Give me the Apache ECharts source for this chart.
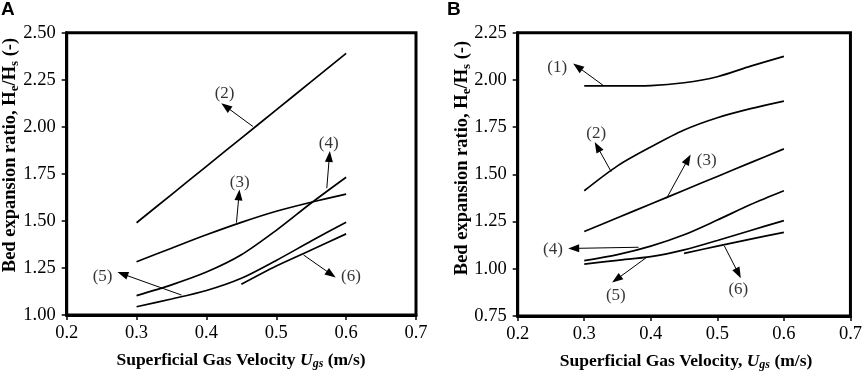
<!DOCTYPE html>
<html>
<head>
<meta charset="utf-8">
<script src="https://cdn.jsdelivr.net/npm/echarts@6/dist/echarts.min.js"></script>
<style>html,body{margin:0;padding:0;background:#fff;}#c{width:865px;height:374px;}</style>
</head>
<body>
<div id="c"></div>
<script>
// ---- data ----
var xs = [0.3, 0.35, 0.4, 0.45, 0.5, 0.55, 0.6];
var xsShort = [0.45, 0.5, 0.55, 0.6];
var xTicks = [0.2, 0.3, 0.4, 0.5, 0.6, 0.7];
var yTicksA = [1.00, 1.25, 1.50, 1.75, 2.00, 2.25, 2.50];
var yTicksB = [0.75, 1.00, 1.25, 1.50, 1.75, 2.00, 2.25];

// Panel A
var a2 = [1.49, 1.64, 1.79, 1.94, 2.09, 2.24, 2.39];
var a3 = [1.283, 1.355, 1.426, 1.492, 1.551, 1.599, 1.642];
var a4 = [1.103, 1.160, 1.228, 1.320, 1.450, 1.595, 1.732];
var a5 = [1.044, 1.085, 1.130, 1.195, 1.290, 1.393, 1.493];
var a6 = [1.163, 1.260, 1.345, 1.431];

// Panel B
var b1 = [1.968, 1.968, 1.970, 1.985, 2.017, 2.073, 2.125];
var b2 = [1.413, 1.545, 1.645, 1.735, 1.800, 1.848, 1.888];
var b3 = [1.197, 1.270, 1.343, 1.416, 1.489, 1.562, 1.635];
var b4 = [1.043, 1.075, 1.120, 1.180, 1.258, 1.340, 1.413];
var b5 = [1.025, 1.045, 1.064, 1.100, 1.150, 1.203, 1.255];
var b6 = [1.082, 1.120, 1.157, 1.193];

// annotation labels [x, y, text] and arrows [x1, y1, x2(head), y2(head)]
var labelsA = [[0.426, 2.176, '(2)'], [0.4476, 1.702, '(3)'], [0.575, 1.913, '(4)'], [0.2514, 1.207, '(5)'], [0.607, 1.204, '(6)']];
var arrowsA = [[0.4666, 2.0016, 0.4276, 2.108], [0.443, 1.491, 0.4466, 1.638], [0.5723, 1.674, 0.576, 1.842], [0.3643, 1.106, 0.28, 1.218], [0.539, 1.319, 0.5786, 1.216]];
var labelsB = [[0.2594, 2.064, '(1)'], [0.318, 1.717, '(2)'], [0.4841, 1.571, '(3)'], [0.2529, 1.103, '(4)'], [0.3475, 0.861, '(5)'], [0.5316, 0.891, '(6)']];
var arrowsB = [[0.3297, 1.968, 0.29, 2.07], [0.3405, 1.514, 0.3197, 1.646], [0.4237, 1.373, 0.4559, 1.580], [0.3816, 1.114, 0.2841, 1.108], [0.394, 1.061, 0.3485, 0.944], [0.5104, 1.122, 0.5316, 0.976]];

// ---- build ----
var SERIF = '"Liberation Serif", "Times New Roman", serif';
var SANS = '"Liberation Sans", Arial, sans-serif';
function pairs(x, y) { return x.map(function (v, i) { return [v, y[i]]; }); }
function curve(idx, x, y) {
  return { type: 'line', xAxisIndex: idx, yAxisIndex: idx, data: pairs(x, y), smooth: 0.3, showSymbol: false, symbol: 'none',
    lineStyle: { color: '#000', width: 1.7 }, silent: true, animation: false, z: 3 };
}
function annot(idx, labels, arrows) {
  return { type: 'scatter', xAxisIndex: idx, yAxisIndex: idx, symbolSize: 0, silent: true, animation: false,
    data: labels.map(function (l) { return { value: [l[0], l[1]], name: l[2] }; }),
    label: { show: true, position: 'inside', formatter: function (p) { return p.name; }, color: '#000', fontFamily: SERIF, fontSize: 17 },
    markLine: { silent: true, animation: false, symbol: ['none', 'triangle'], symbolSize: [8, 11],
      label: { show: false }, lineStyle: { color: '#000', width: 1, type: 'solid' },
      data: arrows.map(function (a) { return [{ coord: [a[0], a[1]] }, { coord: [a[2], a[3]] }]; }) }
  };
}
function xAx(idx) {
  return { type: 'value', gridIndex: idx, min: xTicks[0], max: xTicks[xTicks.length - 1], interval: 0.1,
    axisLine: { show: true, lineStyle: { color: '#000', width: 3 } },
    axisTick: { show: true, length: 5, lineStyle: { color: '#000', width: 1.5 } },
    axisLabel: { color: '#000', fontFamily: SERIF, fontSize: 18.5, margin: 9, formatter: function (v) { return v.toFixed(1); } },
    splitLine: { show: false } };
}
function yAx(idx, ticks) {
  return { type: 'value', gridIndex: idx, min: ticks[0], max: ticks[ticks.length - 1], interval: 0.25,
    axisLine: { show: true, lineStyle: { color: '#000', width: 3 } },
    axisTick: { show: true, length: 5, lineStyle: { color: '#000', width: 1.5 } },
    axisLabel: { color: '#000', fontFamily: SERIF, fontSize: 18.5, margin: 11, formatter: function (v) { return v.toFixed(2); } },
    splitLine: { show: false } };
}
function makeRich(fs) {
  var sfs = Math.round(fs * 0.68);
  return {
    sub: { fontFamily: SERIF, fontWeight: 'bold', fontSize: sfs, verticalAlign: 'bottom', lineHeight: sfs + 1 },
    it: { fontFamily: SERIF, fontWeight: 'bold', fontStyle: 'italic', fontSize: fs },
    itsub: { fontFamily: SERIF, fontWeight: 'bold', fontStyle: 'italic', fontSize: sfs, verticalAlign: 'bottom', lineHeight: sfs + 1 }
  };
}
function titleText(x, y, text, rot, fs) {
  return { type: 'text', x: x, y: y, rotation: rot || 0, silent: true,
    style: { text: text, fontFamily: SERIF, fontWeight: 'bold', fontSize: fs, fill: '#000', align: 'center', verticalAlign: 'middle', lineHeight: fs + 3, rich: makeRich(fs) } };
}

var chart = echarts.init(document.getElementById('c'), null, { renderer: 'canvas' });
chart.setOption({
  animation: false,
  backgroundColor: '#fff',
  grid: [
    { left: 66.7, top: 32.7, width: 349.3, height: 282.3, show: true, borderColor: '#000', borderWidth: 3, backgroundColor: 'transparent' },
    { left: 517.7, top: 32.7, width: 336.6, height: 283.3, show: true, borderColor: '#000', borderWidth: 3, backgroundColor: 'transparent' }
  ],
  xAxis: [xAx(0), xAx(1)],
  yAxis: [yAx(0, yTicksA), yAx(1, yTicksB)],
  series: [
    curve(0, xs, a2), curve(0, xs, a3), curve(0, xs, a4), curve(0, xs, a5), curve(0, xsShort, a6),
    annot(0, labelsA, arrowsA),
    curve(1, xs, b1), curve(1, xs, b2), curve(1, xs, b3), curve(1, xs, b4), curve(1, xs, b5), curve(1, xsShort, b6),
    annot(1, labelsB, arrowsB)
  ],
  graphic: [
    { type: 'text', x: 1, y: 0, silent: true, style: { text: 'A', fontFamily: SANS, fontWeight: 'bold', fontSize: 19, fill: '#000' } },
    { type: 'text', x: 447, y: 0, silent: true, style: { text: 'B', fontFamily: SANS, fontWeight: 'bold', fontSize: 19, fill: '#000' } },
    titleText(10, 155, 'Bed expansion ratio, H{sub|e}/H{sub|s} (-)', Math.PI / 2, 18.5),
    titleText(462, 158, 'Bed expansion ratio, H{sub|e}/H{sub|s} (-)', Math.PI / 2, 18.5),
    titleText(241, 360, 'Superficial Gas Velocity {it|U}{itsub|gs} (m/s)', 0, 17.5),
    titleText(686, 361, 'Superficial Gas Velocity, {it|U}{itsub|gs} (m/s)', 0, 17.5)
  ]
});
</script>
</body>
</html>
